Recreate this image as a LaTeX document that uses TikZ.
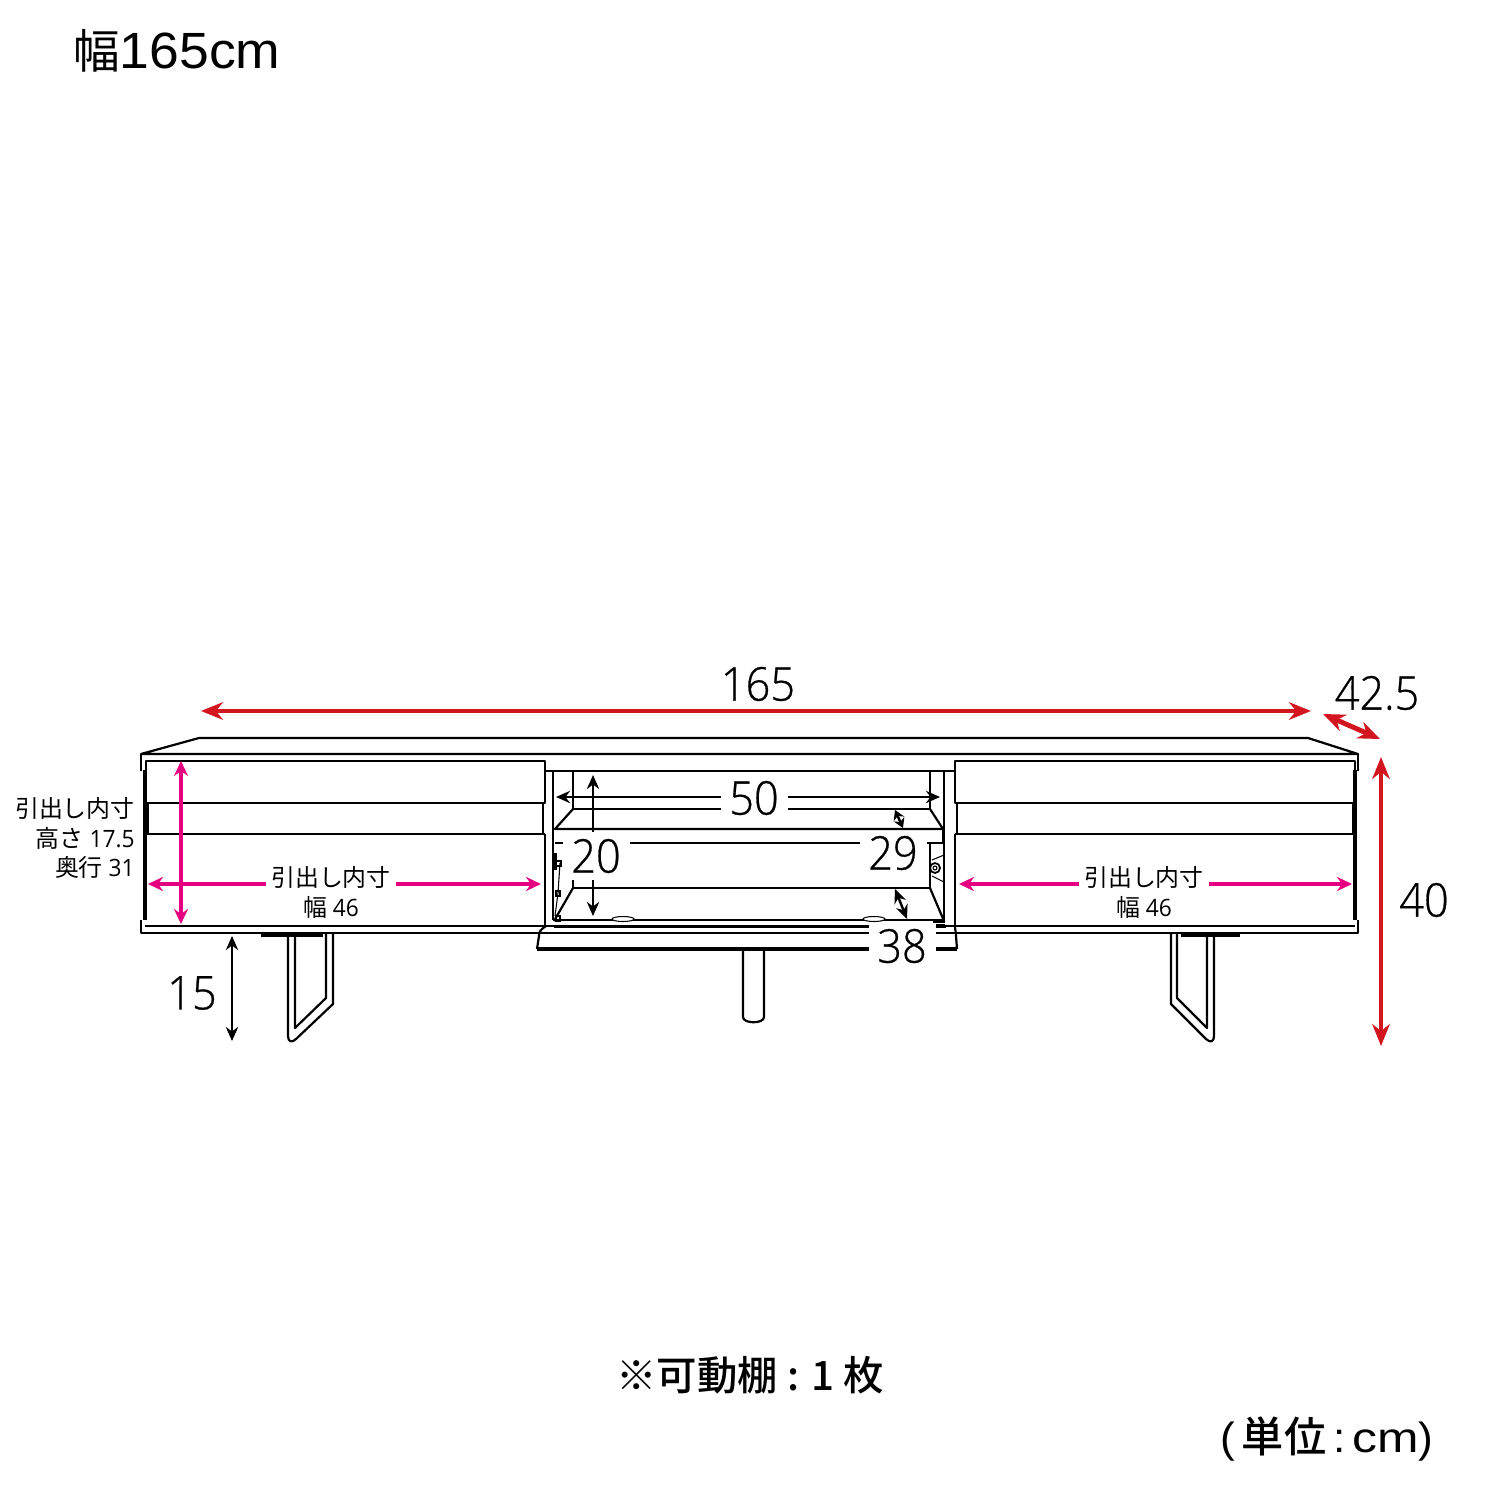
\documentclass[tikz,border=0pt]{standalone}
\usepackage{fontspec}
\usetikzlibrary{arrows.meta}
\setmainfont{Open Sans Light}[FakeStretch=0.93,FakeBold=0.6]
\newfontfamily\plainnum{Open Sans}[FakeStretch=0.95]
\newfontfamily\cjk{Noto Sans CJK JP}
\newfontfamily\cjkmid{Noto Sans CJK JP Medium}
\newfontfamily\latin{Liberation Sans}[FakeStretch=1.05]
\newfontfamily\latinwide{Liberation Sans}[FakeStretch=1.18]
\definecolor{dimred}{HTML}{D2151E}
\definecolor{dimpink}{HTML}{E4007F}
\tikzset{
    board/.style={line width=1.25pt,line join=round},
    heavy/.style={line width=1.9pt},
    fine/.style={line width=0.6pt},
    redarrow/.style={<->,>={Stealth[length=12.5pt,width=10pt]},line width=2.8pt,draw=dimred},
    pinkarrow/.style={<->,>={Stealth[length=8.5pt,width=8pt]},line width=2pt,draw=dimpink},
    blackarrow/.style={<->,>={Stealth[length=8pt,width=7pt]},line width=1.4pt},
    tinyarrow/.style={<->,>={Stealth[length=5.5pt,width=6.5pt]},line width=1.4pt},
    bigtext/.style={font=\fontsize{26.5pt}{28pt}\selectfont,fill=white,inner xsep=5pt,inner ysep=1pt},
    smalltext/.style={font=\plainnum\fontsize{13.6pt}{15pt}\selectfont,inner sep=0pt},
}
\begin{document}
\begin{tikzpicture}[x=0.02cm,y=-0.02cm]
    \useasboundingbox (0,0) rectangle (1500,1500);
    \fill[white] (0,0) rectangle (1500,1500);

    \coordinate (w1) at (201,711);
    \coordinate (w2) at (1311,711);
    \coordinate (d1) at (1323,714);
    \coordinate (d2) at (1380,739);
    \coordinate (h1) at (1381,757);
    \coordinate (h2) at (1381,1046);
    \coordinate (f1) at (232,936);
    \coordinate (f2) at (232,1041);
    \coordinate (dv1) at (181,761);
    \coordinate (dv2) at (181,924);
    \coordinate (dl1) at (148,884);
    \coordinate (dl2) at (541,884);
    \coordinate (dr1) at (959,884);
    \coordinate (dr2) at (1352,884);
    \coordinate (s1) at (556,797);
    \coordinate (s2) at (940,797);
    \coordinate (u1) at (593,775);
    \coordinate (u2) at (593,916);
    \coordinate (t1) at (895,810);
    \coordinate (t2) at (903,828);
    \coordinate (b1) at (895,889);
    \coordinate (b2) at (907,919);

    \fill[white,board,draw=black] (288,934) -- (288,1036) .. controls (288,1042) and (292,1043) .. (296,1039) -- (333,1004) -- (333,934);
    \draw[board] (295,934) -- (295,1028) -- (326,998) -- (326,934);
    \draw[heavy] (261,935) -- (323,935);
    \fill[white,board,draw=black] (1214,934) -- (1214,1036) .. controls (1214,1042) and (1210,1043) .. (1206,1039) -- (1171,1004) -- (1171,934);
    \draw[board] (1207,934) -- (1207,1028) -- (1177,998) -- (1177,934);
    \draw[heavy] (1181,935) -- (1240,935);
    \draw[board] (743,950) -- (743,1017) .. controls (743,1024) and (764,1024) .. (764,1017) -- (764,950);

    \draw[board] (141,754) -- (199,738) -- (1308,738) -- (1358,754) -- cycle;
    \draw[board] (141,754) -- (141,771) (1358,754) -- (1358,771);
    \draw[board] (141,920) -- (141,933) -- (1358,933) -- (1358,920);
    \draw[heavy] (145,770) -- (145,920) (1355,770) -- (1355,920);
    \draw[board] (145,926) -- (1355,926);

    \draw[board] (146,761) -- (545,761) -- (545,803) -- (146,803) -- cycle;
    \draw[board] (146,834) -- (545,834) (543,803) -- (543,834) (148,803) -- (148,834);
    \draw[board] (545,834) -- (545,926);
    \draw[board] (955,761) -- (1355,761) -- (1355,803) -- (955,803) -- cycle;
    \draw[board] (955,834) -- (1355,834) (957,803) -- (957,834) (1353,803) -- (1353,834);
    \draw[board] (955,834) -- (955,926);

    \draw[board] (546,771) -- (954,771);
    \draw[board] (553,771) -- (553,920) (944,771) -- (944,920);
    \draw[board] (573,771) -- (573,809) -- (930,809) -- (930,771);
    \draw[board] (573,809) -- (555,829) -- (943,829) -- (930,809);
    \draw[board] (555,843) -- (943,843) -- (943,829);
    \draw[board] (930,843) -- (930,888) -- (573,888) -- (573,878);
    \draw[board] (573,888) -- (554,921) (930,888) -- (944,921);
    \draw[board] (553,920) -- (945,920);
    \draw[board] (554,927) -- (946,927);
    \draw[board] (546,926) .. controls (540,930) and (539,932) .. (539,936) -- (537,949);
    \draw[board] (955,926) .. controls (955,930) and (956,932) .. (956,936) -- (957,949);
    \draw[board] (539,933) -- (956,933);
    \draw[line width=2.1pt] (537,949) -- (957,949);

    \draw[fine,fill=white] (623,919) ellipse (11 and 2.5);
    \draw[fine,fill=white] (874,919) ellipse (11 and 2.5);
    \draw[line width=1pt,fill=white] (935,868) circle (5);
    \draw[fine] (935,868) circle (2);
    \draw[fine] (932,860) -- (944,855) (932,876) -- (944,882);
    \draw[heavy] (555,853) -- (555,870);
    \draw[fine] (560,863) -- (558,893) -- (555,916);
    \draw[fine] (556,861) rectangle (561,866);
    \draw[fine] (556,891) rectangle (560,896);
    \draw[fine] (556,916) rectangle (560,921);
    \draw[line width=1.1pt] (933,922) -- (945,922) (933,925) -- (945,925);

    \draw[redarrow] (w1) -- (w2);
    \draw[redarrow] (d1) -- (d2);
    \draw[redarrow] (h1) -- (h2);
    \draw[pinkarrow] (dv1) -- (dv2);
    \draw[pinkarrow] (dl1) -- (dl2);
    \draw[pinkarrow] (dr1) -- (dr2);
    \draw[blackarrow] (f1) -- (f2);
    \draw[blackarrow] (s1) -- (s2);
    \draw[blackarrow] (u1) -- (u2);
    \draw[blackarrow] (b1) -- (b2);
    \draw[tinyarrow] (t1) -- (t2);

    \node[bigtext,fill=none] (wlabel) at (758,684) {165};
    \node[bigtext,fill=none] (dlabel) at (1377,693) {42.5};
    \node[bigtext,fill=none] (hlabel) at (1424,900) {40};
    \node[bigtext,fill=none] (flabel) at (192,993) {15};
    \node[bigtext] (slabel) at (754,798) {50};
    \node[bigtext,inner ysep=4pt] (ulabel) at (596,856) {20};
    \node[bigtext] (tlabel) at (893,853) {29};
    \node[bigtext,inner ysep=3.5pt] (blabel) at (902,946) {38};

    \node[smalltext,fill=white,inner xsep=3pt] (ltop) at (331,877) {\cjk 引出し内寸};
    \node[smalltext] (lbot) at (331,907) {{\cjk 幅} 46};
    \node[smalltext,fill=white,inner xsep=3pt] (rtop) at (1144,877) {\cjk 引出し内寸};
    \node[smalltext] (rbot) at (1144,907) {{\cjk 幅} 46};
    \node[smalltext,anchor=east] (side1) at (135,808) {\cjk 引出し内寸};
    \node[smalltext,anchor=east] (side2) at (135,838) {{\cjk 高さ} 17.5};
    \node[smalltext,anchor=east] (side3) at (135,867) {{\cjk 奥行} 31};

    \node[anchor=west,inner sep=0pt,font=\fontsize{29pt}{31pt}\selectfont] (title) at (73,51) {{\cjk\fontsize{26.5pt}{31pt}\selectfont 幅}{\latin 165cm}};
    \node[inner sep=0pt,font=\cjkmid\fontsize{23pt}{25pt}\selectfont] (note) at (750,1375) {※可動棚 : 1 枚};
    \node[anchor=east,inner sep=0pt,font=\fontsize{24pt}{26pt}\selectfont] (unit) at (1434,1439) {{\latin (\,}{\cjkmid 単位}{\latin\,:\,}{\latinwide cm}{\latin)}};
\end{tikzpicture}
\end{document}
